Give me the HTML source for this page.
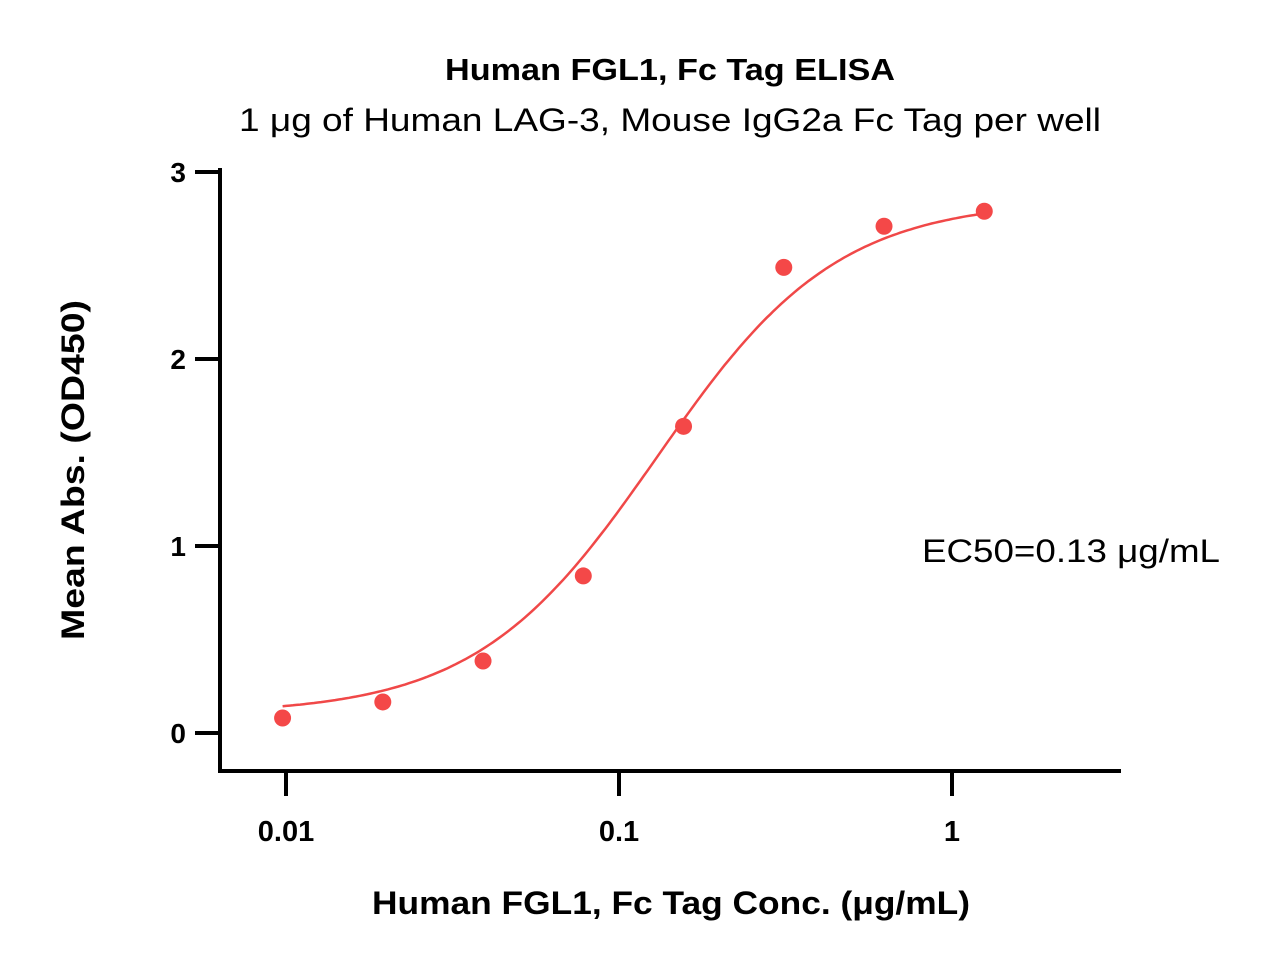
<!DOCTYPE html>
<html><head><meta charset="utf-8"><style>
html,body{margin:0;padding:0;background:#fff;}
svg{display:block;font-family:"Liberation Sans",sans-serif;}
</style></head><body>
<svg width="1264" height="969" viewBox="0 0 1264 969">
<text x="670" y="80" text-anchor="middle" font-size="31" font-weight="bold" textLength="450" lengthAdjust="spacingAndGlyphs">Human FGL1, Fc Tag ELISA</text>
<text x="670" y="131" text-anchor="middle" font-size="32" textLength="862" lengthAdjust="spacingAndGlyphs">1 μg of Human LAG-3, Mouse IgG2a Fc Tag per well</text>
<text x="922" y="562" font-size="32" textLength="298" lengthAdjust="spacingAndGlyphs">EC50=0.13 μg/mL</text>
<text transform="translate(84,470) rotate(-90)" text-anchor="middle" font-size="32" font-weight="bold" textLength="340" lengthAdjust="spacingAndGlyphs">Mean Abs. (OD450)</text>
<text x="671" y="914" text-anchor="middle" font-size="32" font-weight="bold" textLength="598" lengthAdjust="spacingAndGlyphs">Human FGL1, Fc Tag Conc. (μg/mL)</text>
<g id="axes"></g>
<g id="marks"></g>
</svg>
<script>
const conc = [0.009766, 0.01953, 0.03906, 0.078125, 0.15625, 0.3125, 0.625, 1.25];
const absVals = [0.08, 0.166, 0.385, 0.84, 1.64, 2.49, 2.71, 2.79];
const yTicks = [0, 1, 2, 3];
const xTicks = [0.01, 0.1, 1];
const xTickLabels = ["0.01", "0.1", "1"];
const fitParams = [0.1, 2.85, 0.13, 1.6]; // bottom, top, EC50, hill

(function(){
const NS = "http://www.w3.org/2000/svg";
const xs = v => 619 + 333 * Math.log10(v / 0.1);
const ys = v => 733 - 187 * v;
function mk(tag, attrs, parent) {
  const e = document.createElementNS(NS, tag);
  for (const k in attrs) e.setAttribute(k, attrs[k]);
  parent.appendChild(e); return e;
}
const axes = document.getElementById('axes');
const marks = document.getElementById('marks');
let a = mk('line', {x1:220, y1:168, x2:220, y2:773, stroke:'#000', 'stroke-width':4}, axes);


a = mk('line', {x1:218, y1:771, x2:1121, y2:771, stroke:'#000', 'stroke-width':4}, axes);


yTicks.forEach(t => {
  const y = ys(t);
  const l = mk('line', {x1:195, y1:y, x2:220, y2:y, stroke:'#000', 'stroke-width':4}, axes);
  
  
  const tx = mk('text', {x:186, y:y + 10, 'text-anchor':'end', 'font-size':28, 'font-weight':'bold'}, axes);
  tx.textContent = String(t);
  
  
});
xTicks.forEach((t, i) => {
  const x = xs(t);
  const l = mk('line', {x1:x, y1:771, x2:x, y2:796, stroke:'#000', 'stroke-width':4}, axes);
  
  
  const tx = mk('text', {x:x, y:841, 'text-anchor':'middle', 'font-size':29, 'font-weight':'bold'}, axes);
  tx.textContent = xTickLabels[i];
  
  
});
const bot = fitParams[0], topV = fitParams[1], ec = fitParams[2], hill = fitParams[3];
const f = x => bot + (topV - bot) / (1 + Math.pow(ec / x, hill));
let d = '';
const lo = Math.log10(conc[0]), hi = Math.log10(conc[conc.length - 1]);
for (let i = 0; i <= 200; i++) {
  const lx = lo + (hi - lo) * i / 200, x = Math.pow(10, lx);
  d += (i ? 'L' : 'M') + xs(x).toFixed(1) + ',' + ys(f(x)).toFixed(1);
}
const c = mk('path', {d:d, fill:'none', stroke:'#f04848', 'stroke-width':2.5}, marks);


conc.forEach((x, i) => {
  const p = mk('circle', {cx:xs(x), cy:ys(absVals[i]), r:8.5, fill:'#f44848'}, marks);
  
  
});
})();
</script>
</body></html>
